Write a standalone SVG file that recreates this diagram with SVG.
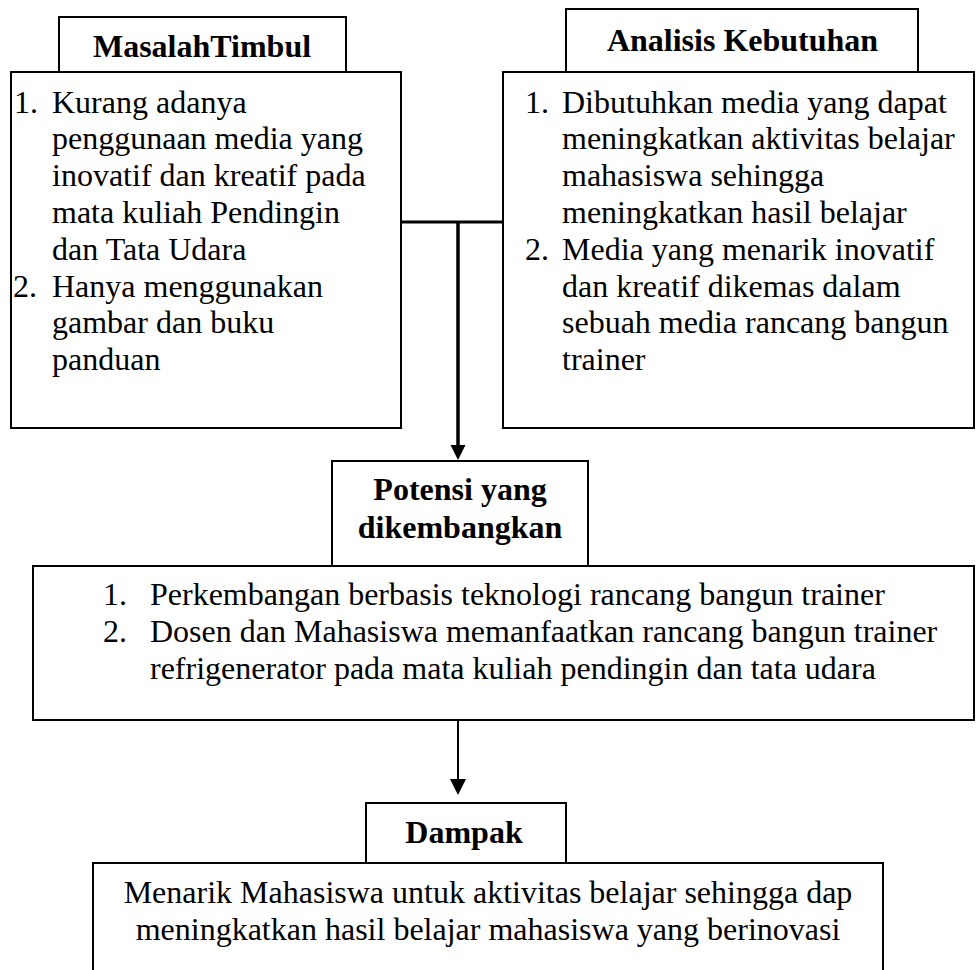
<svg xmlns="http://www.w3.org/2000/svg" width="976" height="970" viewBox="0 0 976 970">
<style>
.box{fill:#fff;stroke:#000;stroke-width:2}
.t{font-family:"Liberation Serif","Times New Roman",serif;font-size:32px;fill:#000}
.h{font-family:"Liberation Serif","Times New Roman",serif;font-size:32px;font-weight:bold;fill:#000;text-anchor:middle}
.c{text-anchor:middle}
.conn{stroke:#000;fill:none}
</style>
<defs>
<marker id="ah" markerWidth="16" markerHeight="16" refX="0" refY="0" viewBox="-8 -16 16 16" markerUnits="userSpaceOnUse" orient="auto"/>
</defs>
<rect width="976" height="970" fill="#fff"/>

<g id="connectors">
<line class="conn" x1="401" y1="222" x2="503" y2="222" stroke-width="3"/>
<line class="conn" x1="458" y1="222" x2="458" y2="447" stroke-width="3.5"/>
<polygon points="450.5,445 465.5,445 458,460" fill="#000"/>
<line class="conn" x1="458" y1="720" x2="458" y2="781" stroke-width="2"/>
<polygon points="450,779 466,779 458,795" fill="#000"/>
</g>

<g id="masalah">
<rect class="box" x="59" y="17" width="287" height="55"/>
<text class="h" x="202" y="57">MasalahTimbul</text>
<rect class="box" x="11" y="72" width="390" height="356"/>
<text class="t">
<tspan x="14" y="112.5">1.</tspan><tspan x="52" y="112.5">Kurang adanya</tspan>
<tspan x="52" y="149.3">penggunaan media yang</tspan>
<tspan x="52" y="186.1">inovatif dan kreatif pada</tspan>
<tspan x="52" y="222.9">mata kuliah Pendingin</tspan>
<tspan x="52" y="259.7">dan Tata Udara</tspan>
<tspan x="13" y="296.5">2.</tspan><tspan x="52" y="296.5">Hanya menggunakan</tspan>
<tspan x="52" y="333.3">gambar dan buku</tspan>
<tspan x="52" y="370.1">panduan</tspan>
</text>
</g>

<g id="analisis">
<rect class="box" x="566" y="9" width="352" height="63"/>
<text class="h" x="742.5" y="51">Analisis Kebutuhan</text>
<rect class="box" x="503" y="72" width="471" height="356"/>
<text class="t">
<tspan x="525" y="112.5">1.</tspan><tspan x="562" y="112.5">Dibutuhkan media yang dapat</tspan>
<tspan x="562" y="149.3">meningkatkan aktivitas belajar</tspan>
<tspan x="562" y="186.1">mahasiswa sehingga</tspan>
<tspan x="562" y="222.9">meningkatkan hasil belajar</tspan>
<tspan x="525" y="259.7">2.</tspan><tspan x="562" y="259.7">Media yang menarik inovatif</tspan>
<tspan x="562" y="296.5">dan kreatif dikemas dalam</tspan>
<tspan x="562" y="333.3">sebuah media rancang bangun</tspan>
<tspan x="562" y="370.1">trainer</tspan>
</text>
</g>

<g id="potensi">
<rect class="box" x="332" y="461" width="256" height="105"/>
<text class="h"><tspan x="460" y="500">Potensi yang</tspan><tspan x="460" y="538">dikembangkan</tspan></text>
<rect class="box" x="33" y="566" width="941" height="154"/>
<text class="t">
<tspan x="103" y="605">1.</tspan><tspan x="150" y="605">Perkembangan berbasis teknologi rancang bangun trainer</tspan>
<tspan x="103" y="642">2.</tspan><tspan x="150" y="642">Dosen dan Mahasiswa memanfaatkan rancang bangun trainer</tspan>
<tspan x="150" y="679">refrigenerator pada mata kuliah pendingin dan tata udara</tspan>
</text>
</g>

<g id="dampak">
<rect class="box" x="366" y="803" width="200" height="60"/>
<text class="h" x="464" y="843">Dampak</text>
<rect class="box" x="93" y="863" width="790" height="115"/>
<text class="t c"><tspan x="488" y="903">Menarik Mahasiswa untuk aktivitas belajar sehingga dap</tspan><tspan x="488" y="940">meningkatkan hasil belajar mahasiswa yang berinovasi</tspan></text>
</g>
</svg>
